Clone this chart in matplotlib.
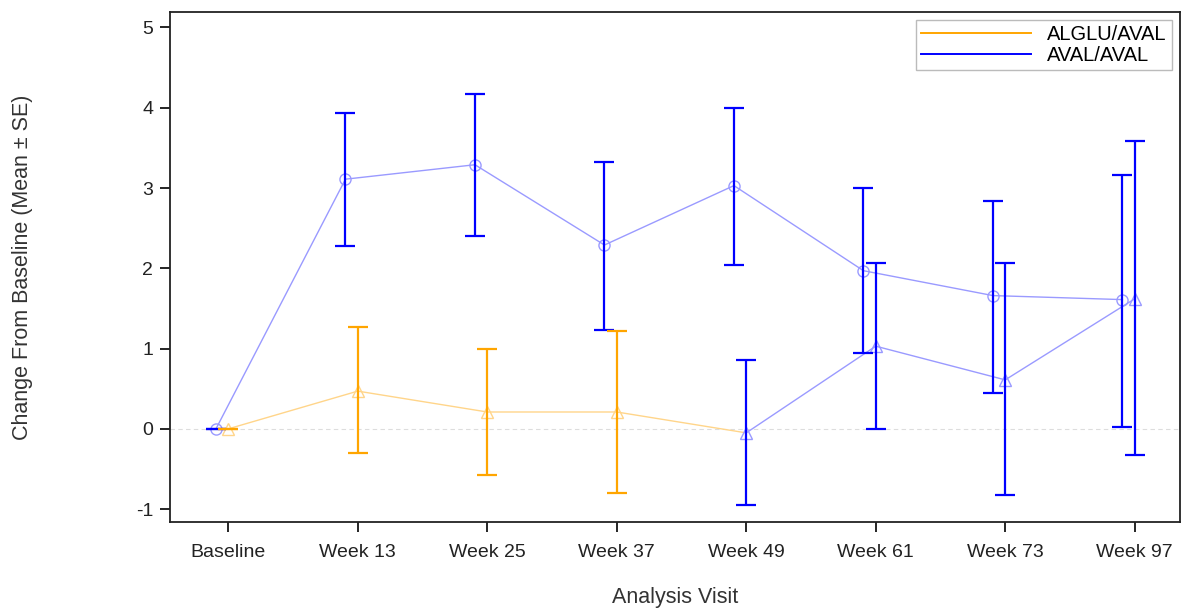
import matplotlib

matplotlib.use("Agg")
import matplotlib.pyplot as plt
import numpy as np

plt.rcParams["font.family"] = ["Liberation Sans", "DejaVu Sans"]
plt.rcParams["axes.unicode_minus"] = False

visits = ["Baseline", "Week 13", "Week 25", "Week 37", "Week 49", "Week 61", "Week 73", "Week 97"]

# AVAL/AVAL (circles)
aval_mean = [0.0, 3.11, 3.29, 2.29, 3.03, 1.97, 1.66, 1.61]
aval_lo = [0.0, 2.28, 2.40, 1.23, 2.04, 0.95, 0.45, 0.02]
aval_hi = [0.0, 3.94, 4.17, 3.32, 4.00, 3.00, 2.84, 3.16]

# ALGLU/AVAL (triangles); switched to AVAL after Week 37
alglu_mean = [0.0, 0.47, 0.21, 0.21, -0.05, 1.03, 0.61, 1.62]
alglu_lo = [0.0, -0.30, -0.57, -0.80, -0.95, 0.00, -0.83, -0.32]
alglu_hi = [0.0, 1.27, 1.00, 1.22, 0.86, 2.07, 2.07, 3.59]
n_alglu = 4  # visits still on ALGLU

ORANGE = "#FFA500"
BLUE = "#0000FF"
LORANGE = "#FFD58A"
LBLUE = "#9A9AFF"

x = np.arange(len(visits))
xc = x - 0.095  # circle series offset

fig = plt.figure(figsize=(11.83, 6.10), dpi=100)
ax = fig.add_axes([0.1437, 0.1443, 0.8538, 0.8357])

ax.axhline(0, color="#dddddd", lw=0.8, ls=(0, (4, 3)), zorder=0)

# mean lines
ax.plot(xc, aval_mean, color=LBLUE, lw=1.0, marker="o", ms=8, mfc="none", mec=LBLUE, zorder=2)
ax.plot(x[:n_alglu + 1], alglu_mean[:n_alglu + 1], color=LORANGE, lw=1.0, zorder=2)
ax.plot(x[n_alglu:], alglu_mean[n_alglu:], color=LBLUE, lw=1.0, zorder=2)
ax.plot(x[:n_alglu], alglu_mean[:n_alglu], ls="none", marker="^", ms=8, mfc="none", mec=LORANGE, zorder=2)
ax.plot(x[n_alglu:], alglu_mean[n_alglu:], ls="none", marker="^", ms=8, mfc="none", mec=LBLUE, zorder=2)

# error bars
am = np.array(aval_mean)
ax.errorbar(xc, am, yerr=[am - np.array(aval_lo), np.array(aval_hi) - am], fmt="none",
            ecolor=BLUE, elinewidth=1.6, capsize=7, capthick=1.6, zorder=3)
gm = np.array(alglu_mean)
glo = gm - np.array(alglu_lo)
ghi = np.array(alglu_hi) - gm
ax.errorbar(x[:n_alglu], gm[:n_alglu], yerr=[glo[:n_alglu], ghi[:n_alglu]], fmt="none",
            ecolor=ORANGE, elinewidth=1.6, capsize=7, capthick=1.6, zorder=3)
ax.errorbar(x[n_alglu:], gm[n_alglu:], yerr=[glo[n_alglu:], ghi[n_alglu:]], fmt="none",
            ecolor=BLUE, elinewidth=1.6, capsize=7, capthick=1.6, zorder=3)

ax.set_xlim(-0.45, 7.35)
ax.set_ylim(-1.16, 5.19)
ax.set_xticks(x, visits)
ax.set_yticks(range(-1, 6))
ax.tick_params(direction="out", length=7, width=1.2, labelsize=14, colors="black", pad=5)
ax.tick_params(axis="x", pad=9)
for lab in ax.get_xticklabels() + ax.get_yticklabels():
    lab.set_color("#222222")
for s in ax.spines.values():
    s.set_linewidth(1.3)
    s.set_color("#222222")

ax.set_xlabel("Analysis Visit", fontsize=15.5, color="#333333")
ax.xaxis.set_label_coords(0.5, -0.128)
ax.set_ylabel("Change From Baseline (Mean \u00b1 SE)", fontsize=15.5, color="#333333")
ax.yaxis.set_label_coords(-0.136, 0.5)

h1, = ax.plot([], [], color=ORANGE, lw=1.4)
h2, = ax.plot([], [], color=BLUE, lw=1.4)
leg = ax.legend([h1, h2], ["ALGLU/AVAL", "AVAL/AVAL"], loc="upper right", fontsize=14.5,
                frameon=True, fancybox=False, edgecolor="#aaaaaa", handlelength=5.5,
                borderaxespad=0.4, labelspacing=0.1, borderpad=0.25)
leg.get_frame().set_linewidth(1.0)

fig.savefig("out.png", dpi=100)
